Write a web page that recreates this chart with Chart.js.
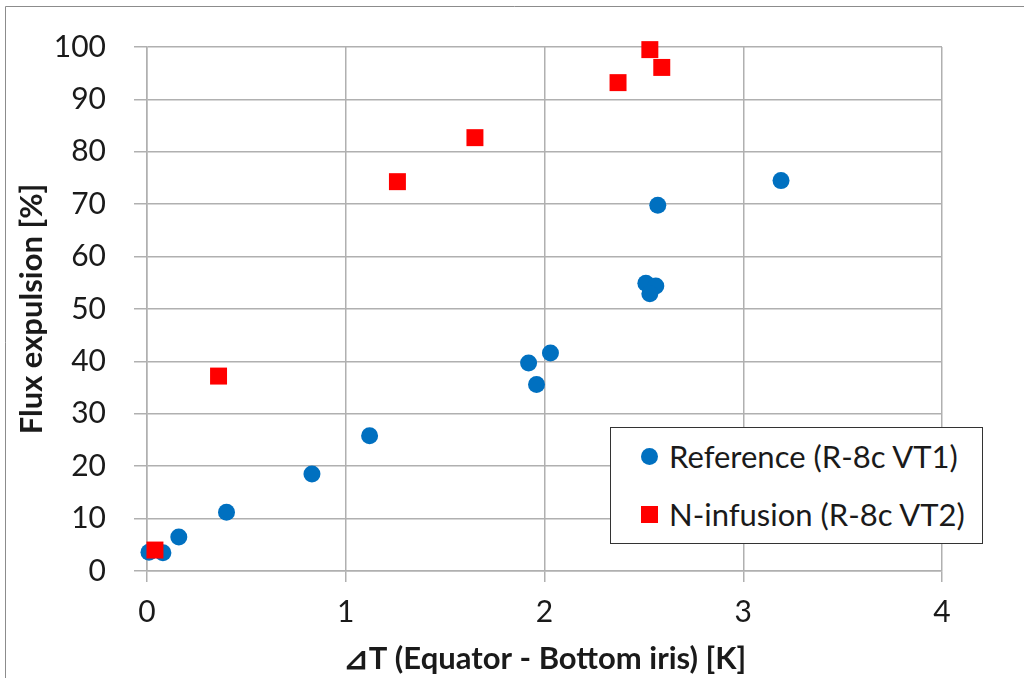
<!DOCTYPE html>
<html>
<head>
<meta charset="utf-8">
<script src="https://cdn.jsdelivr.net/npm/chart.js@4/dist/chart.umd.min.js"></script>
<style>
  html, body { margin: 0; padding: 0; background: #fff; }
  #wrap { position: relative; width: 1024px; height: 678px; }
  #legend {
    position: absolute; left: 610px; top: 427px; width: 371px; height: 115px;
    border: 1px solid #333; background: #fff;
    font-family: Lato, "Liberation Sans", sans-serif; font-size: 31px; color: #1a1a1a;
  }
  .item { position: absolute; left: 58px; line-height: 36px; white-space: nowrap; }
  .sym { position: absolute; }
</style>
</head>
<body>
<div id="wrap">
  <canvas id="fluxChart" width="1024" height="678"></canvas>
  <div id="legend">
    <span class="sym" style="left:30px;top:20px;width:17px;height:17px;border-radius:50%;background:#0070C0"></span>
    <span class="item" style="top:10px">Reference (R-8c VT1)</span>
    <span class="sym" style="left:30px;top:78px;width:17px;height:17px;background:#FF0000"></span>
    <span class="item" style="top:68px">N-infusion (R-8c VT2)</span>
  </div>
</div>
<script>
// valori
const refX = [0.01, 0.08, 0.16, 0.40, 0.83, 1.12, 1.92, 1.96, 2.03, 2.51, 2.56, 2.53, 2.57, 3.19];
const refY = [3.6, 3.5, 6.5, 11.2, 18.5, 25.8, 39.7, 35.6, 41.6, 54.9, 54.4, 52.9, 69.8, 74.5];

const nX = [0.04, 0.36, 1.26, 1.65, 2.37, 2.53, 2.59];
const nY = [4.0, 37.2, 74.3, 82.7, 93.2, 99.5, 96.1];

const xTicks = [0, 1, 2, 3, 4];
const yTicks = [0, 10, 20, 30, 40, 50, 60, 70, 80, 90, 100];

const toPoints = (xs, ys) => xs.map((x, i) => ({ x: x, y: ys[i] }));

const FONT = "Lato, 'Liberation Sans', sans-serif";
const GRID = "#b0b0b0";

// cornice esterna (solo bordo sinistro e superiore visibili)
const frame = {
  id: "frame",
  beforeDraw(chart) {
    const c = chart.ctx;
    c.save();
    c.strokeStyle = "#8c8c8c";
    c.lineWidth = 1;
    c.beginPath();
    c.moveTo(5.5, 700);
    c.lineTo(5.5, 6.5);
    c.lineTo(1024, 6.5);
    c.stroke();
    c.restore();
  }
};

const CTX = document.getElementById("fluxChart").getContext("2d");
new Chart(CTX, {
  type: "scatter",
  data: {
    datasets: [
      {
        label: "Reference (R-8c VT1)",
        data: toPoints(refX, refY),
        order: 2,
        clip: false,
        pointStyle: "circle",
        pointRadius: 8.5,
        pointHoverRadius: 8.5,
        backgroundColor: "#0070C0",
        borderColor: "#0070C0",
        borderWidth: 0
      },
      {
        label: "N-infusion (R-8c VT2)",
        data: toPoints(nX, nY),
        order: 1,
        clip: false,
        pointStyle: "rect",
        pointRadius: 12,
        pointHoverRadius: 12,
        backgroundColor: "#FF0000",
        borderColor: "#FF0000",
        borderWidth: 0
      }
    ]
  },
  options: {
    responsive: false,
    animation: false,
    layout: { padding: { left: 0, right: 82, top: 47, bottom: 0 } },
    plugins: {
      legend: { display: false },
      tooltip: { enabled: false }
    },
    scales: {
      x: {
        type: "linear",
        min: 0,
        max: 4,
        afterBuildTicks: (s) => { s.ticks = xTicks.map(v => ({ value: v })); },
        afterFit: (s) => { s.height = 107; },
        ticks: { color: "#1a1a1a", font: { family: FONT, size: 30 }, padding: 12 },
        grid: { color: GRID, lineWidth: 1.5, tickLength: 11 },
        border: { color: GRID, width: 1.5 },
        title: {
          display: true,
          text: "⊿T (Equator - Bottom iris) [K]",
          color: "#1a1a1a",
          font: { family: FONT, size: 31, weight: "bold" },
          padding: { top: 0, bottom: 0 }
        }
      },
      y: {
        type: "linear",
        min: 0,
        max: 100,
        afterBuildTicks: (s) => { s.ticks = yTicks.map(v => ({ value: v })); },
        afterFit: (s) => { s.width = 147; },
        ticks: { color: "#1a1a1a", font: { family: FONT, size: 30 }, padding: 28 },
        grid: { color: GRID, lineWidth: 1.5, tickLength: 13 },
        border: { color: GRID, width: 1.5 },
        title: {
          display: true,
          text: "Flux expulsion [%]",
          color: "#1a1a1a",
          font: { family: FONT, size: 31, weight: "bold" },
          padding: { top: 13, bottom: 0 }
        }
      }
    }
  },
  plugins: [frame]
});
</script>
</body>
</html>
